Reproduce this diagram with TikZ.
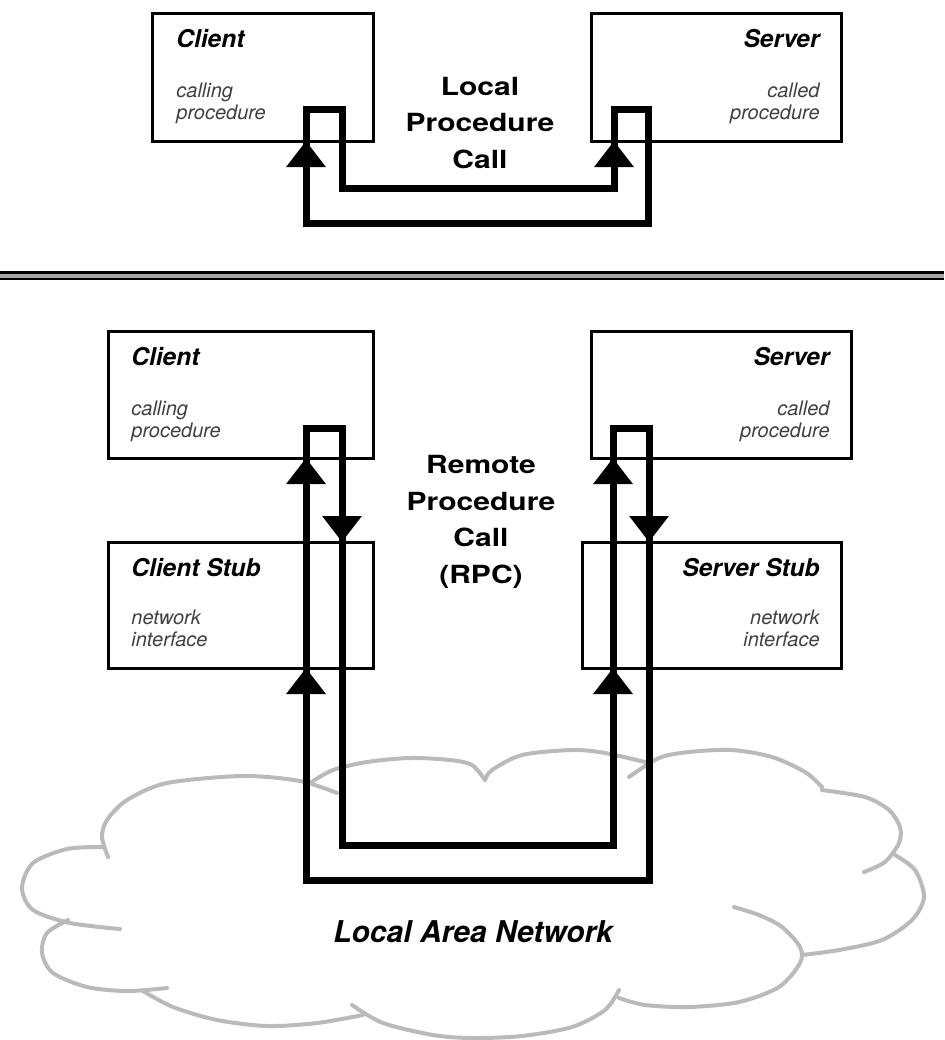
\documentclass[tikz,border=0pt]{standalone}
\usepackage{fontspec}
\setmainfont{TeX Gyre Heros}
\newfontfamily\wideheros[FakeStretch=1.2]{TeX Gyre Heros}
\usetikzlibrary{positioning,arrows.meta}

\begin{document}
\begin{tikzpicture}[x=0.5pt,y=-0.5pt,>={Triangle[width=19pt,length=13pt]},
    box/.style={draw,line width=1.5pt,outer sep=0pt,minimum height=64pt},
    boxtitle/.style={inner sep=0pt,font=\bfseries\itshape\fontsize{12.25}{14}\selectfont},
    boxtext/.style={inner sep=0pt,text=black!75,font=\itshape\fontsize{10}{11}\selectfont},
    bigtitle/.style={inner sep=0pt,align=center,font=\wideheros\bfseries\fontsize{12.5}{18.25}\selectfont},
    loopline/.style={line width=3.5pt},
    flow/.style={->,line width=3.5pt},
    cloudline/.style={draw=black!27,line width=2pt,line cap=round},
    sepline/.style={line width=1.3pt,double=black!35,double distance=2pt}]
        \useasboundingbox (0,0) rectangle (944,1040);

        % local area network
        \draw[cloudline] plot[smooth] coordinates {(337,793) (300,781) (243,776) (167,783) (127,800) (107,820) (102,837) (108,857)};
        \draw[cloudline] plot[smooth] coordinates {(103,847) (67,849) (33,863) (22,888) (33,910) (70,923) (120,929)};
        \draw[cloudline] plot[smooth] coordinates {(68,920) (47,933) (42,953) (53,973) (87,987) (127,991) (167,988)};
        \draw[cloudline] plot[smooth] coordinates {(143,991) (173,1007) (217,1020) (267,1026) (317,1023) (363,1015)};
        \draw[cloudline] plot[smooth] coordinates {(352,1005) (383,1023) (433,1035) (472,1038) (522,1036) (572,1027) (605,1010) (619,990)};
        \draw[cloudline] plot[smooth] coordinates {(619,998) (645,1005) (689,1007) (739,1002) (779,987) (800,963) (800,947) (782,927) (759,915) (734,907)};
        \draw[cloudline] plot[smooth] coordinates {(802,955) (839,950) (882,940) (912,920) (924,897) (915,870) (895,855)};
        \draw[cloudline] plot[smooth] coordinates {(864,872) (885,862) (899,843) (900,827) (889,810) (865,797) (822,790)};
        \draw[cloudline] plot[smooth] coordinates {(822,787) (805,772) (772,757) (732,750) (689,752) (659,758) (629,777)};
        \draw[cloudline] plot[smooth] coordinates {(649,763) (605,753) (572,750) (522,755) (492,770) (485,780)};
        \draw[cloudline] plot[smooth] coordinates {(310,783) (333,770) (367,762) (410,758) (450,760) (472,765) (485,780)};
        \node[font=\bfseries\itshape\fontsize{15}{18}\selectfont,anchor=base] (lan) at (473,942) {Local Area Network};

        % separator
        \coordinate (sepl) at (0,275.5);
        \coordinate (sepr) at (944,275.5);
        \draw[sepline] (sepl) -- (sepr);

        % local call
        \node[box,minimum width=110.5pt] (cli1) at (262.5,77) {};
        \node[box,minimum width=125pt,right=109pt of cli1] (srv1) {};
        \node[boxtitle,anchor=base west] (cli1t) at ([xshift=12pt,yshift=-17pt]cli1.north west) {Client};
        \node[boxtext,anchor=base west,align=left] (cli1s) at ([xshift=12pt,yshift=-53pt]cli1.north west) {calling\\procedure};
        \node[boxtitle,anchor=base east] (srv1t) at ([xshift=-10.5pt,yshift=-17pt]srv1.north east) {Server};
        \node[boxtext,anchor=base east,align=right] (srv1s) at ([xshift=-10.5pt,yshift=-53pt]srv1.north east) {called\\procedure};
        \node[bigtitle,anchor=base] (lpc) at (480,168) {Local\\Procedure\\Call};

        \coordinate (tl1) at (306,109);
        \coordinate (tr1) at (342,109);
        \coordinate (sl1) at (614,109);
        \coordinate (sr1) at (648,109);
        \coordinate (in1) at (0,188);
        \coordinate (out1) at (0,223);
        \draw[loopline] (tr1) |- (sl1 |- in1) -- (sl1) -- (sr1) |- (tl1 |- out1) -- (tl1) -- cycle;
        \draw[flow] (tl1 |- out1) -- (tl1 |- cli1.south);
        \draw[flow] (sl1 |- in1) -- (sl1 |- srv1.south);

        % remote call
        \node[box,minimum width=132.5pt,minimum height=63.5pt] (cli2) at (240.5,394.5) {};
        \node[box,minimum width=130pt,minimum height=63.5pt,right=109pt of cli2] (srv2) {};
        \node[box,minimum width=132.5pt,minimum height=63pt,below=42pt of cli2] (clistub) {};
        \node[box,minimum width=129.5pt,minimum height=63pt,below=42pt of srv2,xshift=-4.75pt] (srvstub) {};
        \node[boxtitle,anchor=base west] (cli2t) at ([xshift=11.5pt,yshift=-17pt]cli2.north west) {Client};
        \node[boxtext,anchor=base west,align=left] (cli2s) at ([xshift=11.5pt,yshift=-53pt]cli2.north west) {calling\\procedure};
        \node[boxtitle,anchor=base east] (srv2t) at ([xshift=-10.5pt,yshift=-17pt]srv2.north east) {Server};
        \node[boxtext,anchor=base east,align=right] (srv2s) at ([xshift=-10.5pt,yshift=-53pt]srv2.north east) {called\\procedure};
        \node[boxtitle,anchor=base west] (clistubt) at ([xshift=11.5pt,yshift=-17pt]clistub.north west) {Client Stub};
        \node[boxtext,anchor=base west,align=left] (clistubs) at ([xshift=11.5pt,yshift=-52pt]clistub.north west) {network\\interface};
        \node[boxtitle,anchor=base east] (srvstubt) at ([xshift=-10.5pt,yshift=-17pt]srvstub.north east) {Server Stub};
        \node[boxtext,anchor=base east,align=right] (srvstubs) at ([xshift=-10.5pt,yshift=-52pt]srvstub.north east) {network\\interface};
        \node[bigtitle,anchor=base] (rpc) at (481,583) {Remote\\Procedure\\Call\\(RPC)};

        \coordinate (tl2) at (306,428);
        \coordinate (tr2) at (342,428);
        \coordinate (sl2) at (613,428);
        \coordinate (sr2) at (649,428);
        \coordinate (in2) at (0,845);
        \coordinate (out2) at (0,880);
        \draw[loopline] (tr2) |- (sl2 |- in2) -- (sl2) -- (sr2) |- (tl2 |- out2) -- (tl2) -- cycle;
        \draw[flow] (tl2 |- clistub.north) -- (tl2 |- cli2.south);
        \draw[flow] (tl2 |- out2) -- (tl2 |- clistub.south);
        \draw[flow] (tr2 |- cli2.south) -- (tr2 |- clistub.north);
        \draw[flow] (sl2 |- srvstub.north) -- (sl2 |- srv2.south);
        \draw[flow] (sl2 |- in2) -- (sl2 |- srvstub.south);
        \draw[flow] (sr2 |- srv2.south) -- (sr2 |- srvstub.north);
    \end{tikzpicture}
\end{document}
